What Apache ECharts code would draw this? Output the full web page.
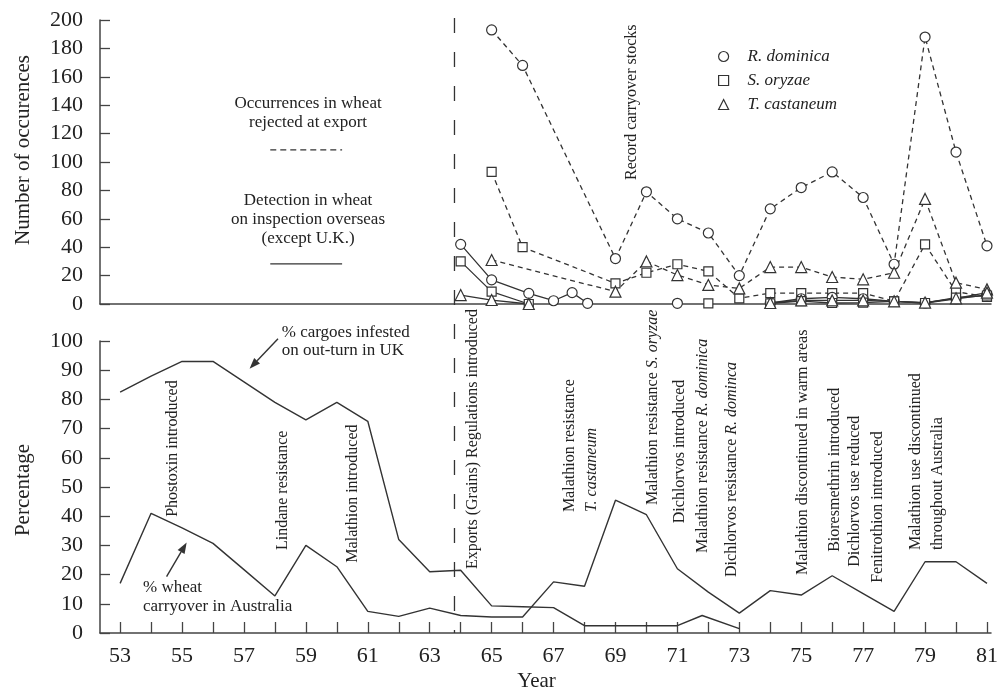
<!DOCTYPE html>
<html>
<head>
<meta charset="utf-8">
<script src="https://cdn.jsdelivr.net/npm/echarts@6/dist/echarts.min.js"></script>
<style>
html,body{margin:0;padding:0;background:#fff;}
#chart{width:998px;height:690px;}
</style>
</head>
<body>
<div id="chart"></div>
<script>
// ---------------- DATA ----------------
// Top panel: number of occurrences (dashed = rejected at export, solid = detected overseas)
const domDashed = [[65,193],[66,168],[69,32],[70,79],[71,60],[72,50],[73,20],[74,67],[75,82],[76,93],[77,75],[78,28],[79,188],[80,107],[81,41]];
const oryDashed = [[65,93],[66,40],[69,14.5],[70,22],[71,28],[72,23],[73,4],[74,7.7],[75,7.7],[76,7.7],[77,7.7],[78,1.9],[79,42],[80,8.7],[81,5]];
const casDashed = [[65,31],[69,8.7],[70,30],[71,20.4],[72,13.4],[73,11],[74,26],[75,26],[76,19],[77,17.4],[78,22],[79,74],[80,15],[81,10.3]];
const domSolid = [[64,42],[65,17],[66.2,7.5],[67,2.3],[67.6,8],[68.1,0.5],[69,'-'],[71,0.5],[72,'-'],[74,0.7],[75,3.7],[76,4.7],[77,3.7],[78,1.9],[79,0.7],[80,3.7],[81,6.5]];
const orySolid = [[64,30],[65,8.7],[66.2,0],[68,'-'],[72,0.5],[73,'-'],[74,0.5],[75,2],[76,0.7],[77,1],[78,1.9],[79,0.7],[80,4.5],[81,6]];
const casSolid = [[64,6.3],[65,2.8],[66.2,0],[68,'-'],[74,0.7],[75,2.5],[76,2.5],[77,2.5],[78,1.9],[79,1],[80,4],[81,8]];
// Bottom panel: percentages
const cargoes = [[53,82.5],[54,88],[55,93],[56,93],[57,86],[58,79],[59,73],[60,79],[61,72.5],[62,32],[63,21],[64,21.5],[65,9.3],[66,9],[67,8.7],[68,2.5],[69,2.5],[70,2.5],[71,2.5],[71.8,6],[73,1.5]];
const carryover = [[53,17],[54,41],[55,36],[56,30.7],[57,21.7],[58,12.7],[59,30],[60,22.7],[61,7.4],[62,5.7],[63,8.5],[64,6],[65,5.5],[66,5.5],[67,17.5],[68,16],[69,45.5],[70,40.5],[71,22],[72,14],[73,6.8],[74,14.5],[75,13],[76,19.6],[77,13.5],[78,7.4],[79,24.4],[80,24.4],[81,17]];
// Axis ticks / labels
const tickYears = [53,54,55,56,57,58,59,60,61,62,63,64,65,66,67,68,69,70,71,72,73,74,75,76,77,78,79,80,81];
const labelYears = [53,55,57,59,61,63,65,67,69,71,73,75,77,79,81];
const regulationYear = 63.8;
// Event annotations (year, value at text start)
const bottomNotes = [
  {t:'{n|Phostoxin introduced}', year:54.71, v:39.8},
  {t:'{n|Lindane resistance}', year:58.26, v:28.4},
  {t:'{n|Malathion introduced}', year:60.53, v:24.1},
  {t:'{n|Exports (Grains) Regulations introduced}', year:64.4, v:21.9},
  {t:'{n|Malathion resistance}\n{i|T. castaneum}', year:67.89, v:41.4},
  {t:'{n|Malathion resistance }{i|S. oryzae}', year:70.2, v:43.8},
  {t:'{n|Dichlorvos introduced}', year:71.09, v:37.6},
  {t:'{n|Malathion resistance }{i|R. dominica}', year:71.83, v:27.4},
  {t:'{n|Dichlorvos resistance }{i|R. dominca}', year:72.76, v:19.2},
  {t:'{n|Malathion discontinued in warm areas}', year:75.06, v:19.9},
  {t:'{n|Bioresmethrin introduced}', year:76.09, v:27.8},
  {t:'{n|Dichlorvos use reduced}', year:76.74, v:22.7},
  {t:'{n|Fenitrothion introduced}', year:77.48, v:17.2},
  {t:'{n|Malathion use discontinued}\n{n|throughout Australia}', year:79.05, v:28.4}
];
const topNotes = [
  {t:'{n|Record carryover stocks}', year:69.53, v:87.3}
];

// ---------------- STYLE ----------------
const FONT = "'Liberation Serif','Times New Roman',serif";
const INK = '#222';
const LINE = '#333';
const AX = {color:'#444', width:1.5};

const chart = echarts.init(document.getElementById('chart'), null, {renderer:'canvas'});

function markerSeries(name, data, symbol, dashed, size){
  return {
    name, type:'line', xAxisIndex:0, yAxisIndex:0, data,
    symbol, symbolSize:size, showSymbol:true, showAllSymbol:true,
    connectNulls:false,
    lineStyle:{color:LINE, width:1.3, type: dashed ? [5,4] : 'solid'},
    itemStyle:{color:'#fff', borderColor:LINE, borderWidth:1.2},
    z: dashed ? 3 : 4
  };
}

const option = {
  animation:false,
  backgroundColor:'#fff',
  grid:[
    {left:100, top:20, width:891, height:284, containLabel:false, outerBoundsMode:'none'},
    {left:100, top:341, width:891, height:292, containLabel:false, outerBoundsMode:'none'}
  ],
  xAxis:[
    {gridIndex:0, type:'value', min:52.35, max:81.13,
     axisLine:{show:true, onZero:false, lineStyle:AX}, axisTick:{show:false}, axisLabel:{show:false}, splitLine:{show:false}},
    {gridIndex:1, type:'value', min:52.35, max:81.13,
     axisLine:{show:true, onZero:false, lineStyle:AX},
     axisTick:{show:true, inside:true, length:11, customValues:tickYears, lineStyle:{color:'#444', width:1.3}},
     axisLabel:{show:true, customValues:labelYears, formatter:v=>String(v), fontFamily:FONT, fontSize:22, color:INK, margin:12},
     splitLine:{show:false}}
  ],
  yAxis:[
    {gridIndex:0, type:'value', min:0, max:200, interval:20,
     axisLine:{show:true, lineStyle:AX}, axisTick:{show:true, inside:true, length:10, lineStyle:{color:'#444', width:1.3}},
     axisLabel:{fontFamily:FONT, fontSize:22, color:INK, margin:17}, splitLine:{show:false}},
    {gridIndex:1, type:'value', min:0, max:100, interval:10,
     axisLine:{show:true, lineStyle:AX}, axisTick:{show:true, inside:true, length:10, lineStyle:{color:'#444', width:1.3}},
     axisLabel:{fontFamily:FONT, fontSize:22, color:INK, margin:17}, splitLine:{show:false}}
  ],
  legend:{
    data:[{name:'R. dominica', icon:'circle'},{name:'S. oryzae', icon:'rect'},{name:'T. castaneum', icon:'triangle'}],
    orient:'vertical', left:713, top:43, itemWidth:10, itemHeight:10, itemGap:7, selectedMode:false,
    itemStyle:{color:'#fff', borderColor:LINE, borderWidth:1.2},
    textStyle:{fontFamily:FONT, fontStyle:'italic', fontSize:17, lineHeight:17, color:INK, padding:[0,0,0,14]}
  },
  series:[
    markerSeries('R. dominica', domDashed, 'circle', true, 10),
    markerSeries('S. oryzae', oryDashed, 'rect', true, 9),
    markerSeries('T. castaneum', casDashed, 'triangle', true, 11),
    markerSeries('R. dominica', domSolid, 'circle', false, 10),
    markerSeries('S. oryzae', orySolid, 'rect', false, 9),
    markerSeries('T. castaneum', casSolid, 'triangle', false, 11),
    {name:'cargoes', type:'line', xAxisIndex:1, yAxisIndex:1, data:cargoes, showSymbol:false, symbol:'none',
     lineStyle:{color:LINE, width:1.4}},
    {name:'carryover', type:'line', xAxisIndex:1, yAxisIndex:1, data:carryover, showSymbol:false, symbol:'none',
     lineStyle:{color:LINE, width:1.4}}
  ]
};
chart.setOption(option);

// ---------------- TEXT / ANNOTATIONS ----------------
function P(g, x, y){ return chart.convertToPixel({gridIndex:g}, [x, y]); }
function rich(size, lh){
  return {
    n:{fontFamily:FONT, fontSize:size, fill:INK, color:INK, lineHeight:lh},
    i:{fontFamily:FONT, fontSize:size, fontStyle:'italic', fill:INK, color:INK, lineHeight:lh}
  };
}
function vText(g, note, size){
  const p = P(g, note.year, note.v);
  return {type:'text', x:p[0], y:p[1], rotation:Math.PI/2, z:10,
    style:{text:note.t, rich:rich(size, 22), fontFamily:FONT, fontSize:size, fill:INK, align:'left', verticalAlign:'middle'}};
}
function hText(g, text, year, v, align, size, lh){
  const p = P(g, year, v);
  return {type:'text', x:p[0], y:p[1], z:10,
    style:{text, rich:rich(size, lh), fontFamily:FONT, fontSize:size, lineHeight:lh, fill:INK, align, verticalAlign:'middle'}};
}
function arrow(g, from, to){
  const a = P(g, from[0], from[1]), b = P(g, to[0], to[1]);
  const dx = b[0]-a[0], dy = b[1]-a[1], L = Math.hypot(dx, dy);
  const ux = dx/L, uy = dy/L, nx = -uy, ny = ux;
  const hl = 11, hw = 4;
  const base = [b[0]-ux*hl, b[1]-uy*hl];
  return [
    {type:'line', z:10, shape:{x1:a[0], y1:a[1], x2:base[0], y2:base[1]}, style:{stroke:LINE, lineWidth:1.4}},
    {type:'polygon', z:10, shape:{points:[[b[0],b[1]],[base[0]+nx*hw, base[1]+ny*hw],[base[0]-nx*hw, base[1]-ny*hw]]}, style:{fill:LINE}}
  ];
}

const g = [];
bottomNotes.forEach(n => g.push(vText(1, n, 16)));
topNotes.forEach(n => g.push(vText(0, n, 16)));
// explanatory key in top panel
g.push(hText(0, '{n|Occurrences in wheat}\n{n|rejected at export}', 59.07, 134.6, 'center', 17, 19.5));
g.push(hText(0, '{n|Detection in wheat}\n{n|on inspection overseas}\n{n|(except U.K.)}', 59.07, 59.2, 'center', 17, 19));
(function(){
  const a = P(0, 57.85, 108.5), b = P(0, 60.17, 108.5);
  g.push({type:'line', z:10, shape:{x1:a[0], y1:a[1], x2:b[0], y2:b[1]}, style:{stroke:LINE, lineWidth:1.2, lineDash:[6,4]}});
  const c = P(0, 57.85, 28.2), d = P(0, 60.17, 28.2);
  g.push({type:'line', z:10, shape:{x1:c[0], y1:c[1], x2:d[0], y2:d[1]}, style:{stroke:LINE, lineWidth:1.2}});
})();
// line labels in bottom panel
g.push(hText(1, '{n|% cargoes infested}\n{n|on out-turn in UK}', 58.22, 99.8, 'left', 17, 18.5));
g.push(hText(1, '{n|% wheat}\n{n|carryover in Australia}', 53.74, 12.2, 'left', 17, 19));
arrow(1, [58.1, 100.8], [57.18, 90.5]).forEach(e => g.push(e));
arrow(1, [54.5, 19.3], [55.15, 31.0]).forEach(e => g.push(e));
// regulation dashed line through both panels
(function(){
  const a = P(0, regulationYear, 200), b = P(1, regulationYear, 0);
  g.push({type:'line', z:9, shape:{x1:a[0], y1:a[1]-2, x2:b[0], y2:b[1]}, style:{stroke:LINE, lineWidth:1.3, lineDash:[15,19]}});
})();
// axis titles
(function(){
  const t0 = P(0, 52.35, 200), b0 = P(0, 52.35, 0);
  const t1 = P(1, 52.35, 100), b1 = P(1, 52.35, 0);
  const r = P(1, 81.13, 0);
  g.push({type:'text', x:23, y:(t0[1]+b0[1])/2 - 12, rotation:Math.PI/2,
    style:{text:'Number of occurences', fontFamily:FONT, fontSize:21, fill:INK, align:'center', verticalAlign:'middle'}});
  g.push({type:'text', x:23, y:(t1[1]+b1[1])/2 + 3, rotation:Math.PI/2,
    style:{text:'Percentage', fontFamily:FONT, fontSize:21, fill:INK, align:'center', verticalAlign:'middle'}});
  g.push({type:'text', x:(b1[0]+r[0])/2 - 9, y:b1[1] + 48,
    style:{text:'Year', fontFamily:FONT, fontSize:21, fill:INK, align:'center', verticalAlign:'middle'}});
})();

chart.setOption({graphic:g});
</script>
</body>
</html>
